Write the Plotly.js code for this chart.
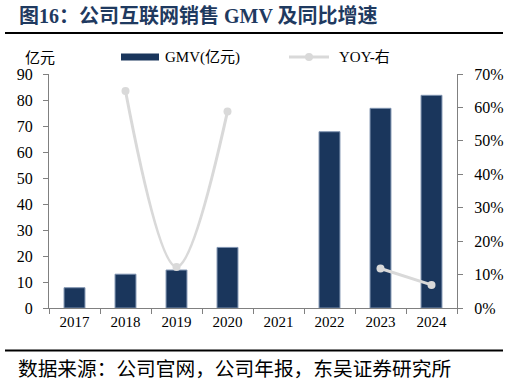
<!DOCTYPE html>
<html>
<head>
<meta charset="utf-8">
<script src="https://cdn.plot.ly/plotly-3.0.1.min.js"></script>
<style>html,body{margin:0;padding:0;background:#fff;}#chart{width:510px;height:382px;}</style>
</head>
<body>
<div id="chart"></div>
<script>
// Data
const years = ['2017', '2018', '2019', '2020', '2021', '2022', '2023', '2024'];
const gmv = [7.8, 13.0, 14.6, 23.3, null, 67.8, 76.8, 81.8];          // 亿元
const yoy = [null, 0.649, 0.123, 0.588, null, null, 0.118, 0.069];     // 同比
const seriesNames = ['GMV(亿元)', 'YOY-右'];
const leftUnit = '亿元';
const titleText = '图16：公司互联网销售 GMV 及同比增速';
const sourceText = '数据来源：公司官网，公司年报，东吴证券研究所';

// Layout helpers (pixel -> paper coordinates)
const L = 49, R = 457, T = 74, B = 308;
const px = x => (x - L) / (R - L);
const py = y => (B - y) / (B - T);

const FONT = '"Liberation Serif", "Times New Roman", "Noto Sans CJK SC", serif';
const CJK = '"Noto Sans CJK SC", "Liberation Serif", sans-serif';
const barColor = '#1a365c';
const lineColor = '#d9d9d9';
const titleColor = '#1f3a60';

const traces = [
  {
    type: 'bar', x: years, y: gmv, name: seriesNames[0], yaxis: 'y',
    width: 0.41,
    marker: {color: barColor, line: {color: '#7f93b0', width: 1}},
    showlegend: false, hoverinfo: 'x+y'
  },
  {
    type: 'scatter', mode: 'lines+markers', x: years, y: yoy, name: seriesNames[1], yaxis: 'y2',
    line: {color: lineColor, width: 3, shape: 'spline'},
    marker: {color: lineColor, size: 8},
    connectgaps: false, showlegend: false
  }
];

const layout = {
  width: 510, height: 382,
  margin: {l: L, r: 510 - R, t: T, b: 382 - B, pad: 0},
  paper_bgcolor: '#fff', plot_bgcolor: '#fff',
  font: {family: FONT, size: 15, color: '#000'},
  bargap: 0.59,
  xaxis: {
    type: 'category', tickson: 'boundaries', ticks: 'outside', ticklen: 5, tickcolor: '#808080',
    showline: true, linecolor: '#808080', linewidth: 1, showgrid: false, zeroline: false,
    tickfont: {family: FONT, size: 15, color: '#000'}, range: [-0.5, 7.5]
  },
  yaxis: {
    range: [0, 90], dtick: 10, tick0: 0, ticks: 'outside', ticklen: 5, tickcolor: '#808080',
    showline: true, linecolor: '#808080', linewidth: 1, showgrid: false, zeroline: false,
    tickfont: {family: FONT, size: 16, color: '#000'}, ticklabelstandoff: 7
  },
  yaxis2: {
    overlaying: 'y', side: 'right', range: [0, 0.7], dtick: 0.1, tick0: 0, tickformat: '.0%',
    ticks: 'outside', ticklen: 5, tickcolor: '#808080',
    showline: true, linecolor: '#808080', linewidth: 1, showgrid: false, zeroline: false,
    tickfont: {family: FONT, size: 16, color: '#000'}, ticklabelstandoff: 8
  },
  shapes: [
    {type: 'line', xref: 'paper', yref: 'paper', x0: px(5), x1: px(503), y0: py(33), y1: py(33),
     line: {color: '#000', width: 2}},
    {type: 'line', xref: 'paper', yref: 'paper', x0: px(5), x1: px(503), y0: py(350.5), y1: py(350.5),
     line: {color: '#000', width: 2}},
    // legend swatches
    {type: 'rect', xref: 'paper', yref: 'paper', x0: px(121), x1: px(159), y0: py(53.5), y1: py(60.5),
     fillcolor: barColor, line: {width: 0}},
    {type: 'line', xref: 'paper', yref: 'paper', x0: px(289), x1: px(329), y0: py(57), y1: py(57),
     line: {color: lineColor, width: 3}},
    {type: 'circle', xref: 'paper', yref: 'paper', x0: px(305), x1: px(313), y0: py(53), y1: py(61),
     fillcolor: lineColor, line: {width: 0}}
  ],
  annotations: [
    {xref: 'paper', yref: 'paper', x: px(17), y: py(16), xanchor: 'left', yanchor: 'middle',
     text: '<b>' + titleText + '</b>', showarrow: false,
     font: {family: FONT, size: 20, color: titleColor}},
    {xref: 'paper', yref: 'paper', x: px(16), y: py(367), xanchor: 'left', yanchor: 'middle',
     text: sourceText, showarrow: false, font: {family: CJK, size: 19.7, color: '#000'}},
    {xref: 'paper', yref: 'paper', x: px(23), y: py(56), xanchor: 'left', yanchor: 'middle',
     text: leftUnit, showarrow: false, font: {family: CJK, size: 15, color: '#000'}},
    {xref: 'paper', yref: 'paper', x: px(163), y: py(57), xanchor: 'left', yanchor: 'middle',
     text: seriesNames[0], showarrow: false, font: {family: FONT, size: 15, color: '#000'}},
    {xref: 'paper', yref: 'paper', x: px(337), y: py(57), xanchor: 'left', yanchor: 'middle',
     text: seriesNames[1], showarrow: false, font: {family: FONT, size: 15, color: '#000'}}
  ]
};

Plotly.newPlot('chart', traces, layout, {displayModeBar: false, staticPlot: true});
</script>
</body>
</html>
